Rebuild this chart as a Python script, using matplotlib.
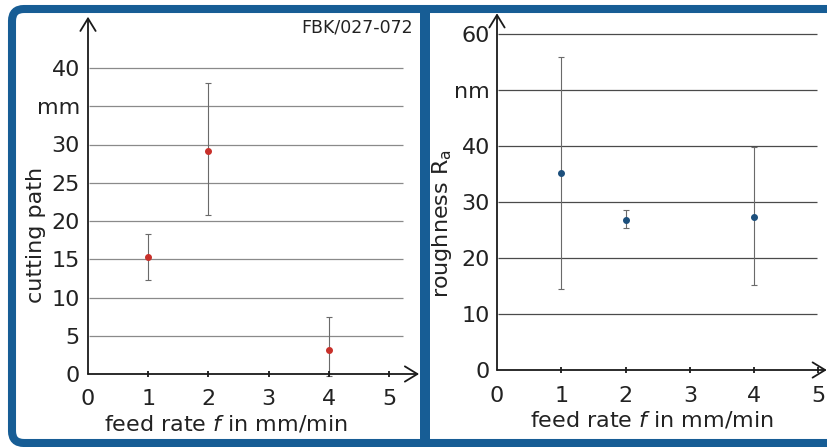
import matplotlib
matplotlib.use("Agg")
import matplotlib.pyplot as plt
from matplotlib.patches import FancyBboxPatch

# feed rate f in mm/min
feed = [1, 2, 4]

# cutting path in mm (mean, lower and upper end of the error bar)
cut_mean = [15.3, 29.2, 3.1]
cut_low = [12.3, 20.8, -0.2]
cut_high = [18.3, 38.1, 7.4]

# roughness Ra in nm
rough_mean = [35.1, 26.8, 27.4]
rough_low = [14.4, 25.3, 15.1]
rough_high = [55.9, 28.6, 39.9]

x_ticks = [0, 1, 2, 3, 4, 5]
cut_ticks = [0, 5, 10, 15, 20, 25, 30, 35, 40]
cut_labels = ["0", "5", "10", "15", "20", "25", "30", "mm", "40"]
rough_ticks = [0, 10, 20, 30, 40, 50, 60]
rough_labels = ["0", "10", "20", "30", "40", "nm", "60"]

W, H = 828, 447
BLUE = "#175d95"
TXT = "#222222"

fig = plt.figure(figsize=(W / 100, H / 100), dpi=100)
fig.patch.set_facecolor("white")

# frame around both panels, drawn in pixel units
bg = fig.add_axes([0, 0, 1, 1], zorder=0)
bg.set_xlim(0, W)
bg.set_ylim(H, 0)
bg.axis("off")
bg.add_patch(FancyBboxPatch((12, 9), W + 20 - 12, 443 - 9,
                            boxstyle="round,pad=0,rounding_size=12",
                            lw=5.8, edgecolor=BLUE, facecolor="white"))
bg.plot([425, 425], [9, 443], color=BLUE, lw=7.2, solid_capstyle="butt")


def panel(rect, xmax, ymax, grid_end, ticks, labels, mean, low, high,
          mcolor, gcolor, ylabel, xlab_pos, ylab_pos, xpad, ypad, arrow_x, arrow_y):
    ax = fig.add_axes(rect, zorder=1)
    ax.set_facecolor("none")
    ax.set_xlim(0, xmax)
    ax.set_ylim(0, ymax)
    for s in ax.spines.values():
        s.set_visible(False)

    ax.hlines(ticks[1:], 0.02, grid_end, colors=gcolor, lw=0.9, zorder=1)

    err = [[m - lo for m, lo in zip(mean, low)], [hi - m for m, hi in zip(mean, high)]]
    ax.errorbar(feed, mean, yerr=err, fmt="o", ms=4, color=mcolor,
                ecolor="#6a6a6a", elinewidth=0.8, capsize=2.2, capthick=0.8,
                zorder=3, clip_on=False)

    # axes drawn as arrows
    arrow = dict(arrowstyle="->,head_length=0.9,head_width=0.55", lw=1.3,
                 color="#1a1a1a", shrinkA=0, shrinkB=0, mutation_scale=10)
    ax.annotate("", xy=(arrow_x, 0), xytext=(0, 0), arrowprops=arrow,
                annotation_clip=False)
    ax.annotate("", xy=(0, arrow_y), xytext=(0, 0), arrowprops=arrow,
                annotation_clip=False)
    ax.plot(x_ticks[1:], [0] * 5, "|", ms=5, mew=1.3, color="#1a1a1a",
            clip_on=False, zorder=4)

    ax.set_xticks(x_ticks)
    ax.set_xticklabels([str(t) for t in x_ticks])
    ax.set_yticks(ticks)
    ax.set_yticklabels(labels)
    ax.tick_params(axis="x", length=0, pad=xpad, labelsize=16, labelcolor=TXT)
    ax.tick_params(axis="y", length=0, pad=ypad, labelsize=16, labelcolor=TXT)

    ax.set_xlabel(r"feed rate $\it{f}$ in mm/min", fontsize=16, color=TXT)
    ax.xaxis.set_label_coords(*xlab_pos)
    ax.set_ylabel(ylabel, fontsize=16, color=TXT)
    ax.yaxis.set_label_coords(*ylab_pos)
    return ax


left = panel([88 / W, 1 - 374 / H, 334.1 / W, 359.55 / H], 5.55, 47, 5.23,
             cut_ticks, cut_labels, cut_mean, cut_low, cut_high,
             "#c8302a", "#8a8a8a", "cutting path",
             (0.413, -0.1085), (-0.1257, 0.3866), 10.8, 5.8, 5.5, 46.7)

right = panel([497 / W, 1 - 370 / H, 331.1 / W, 358.4 / H], 5.15, 64, 4.98,
              rough_ticks, rough_labels, rough_mean, rough_low, rough_high,
              "#1c4f7c", "#4a4a4a", r"roughness R$_\mathrm{a}$",
              (0.467, -0.1116), (-0.131, 0.409), 11.5, 5.0, 5.13, 63.7)

fig.text(413 / W, 1 - 27 / H, "FBK/027-072", ha="right", va="center",
         fontsize=12.5, color=TXT)

fig.savefig("out.png", dpi=100, facecolor="white")
